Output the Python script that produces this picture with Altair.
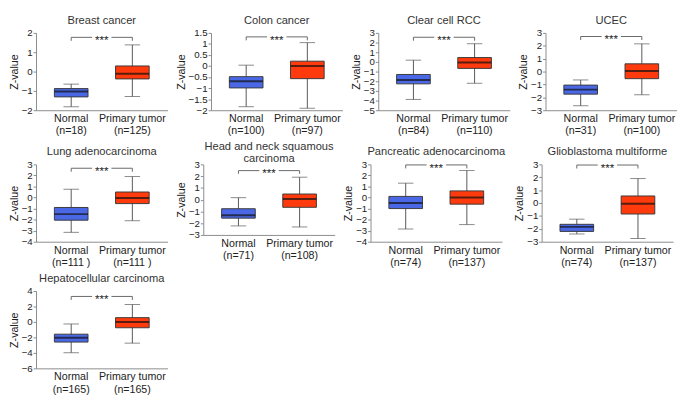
import altair as alt
import pandas as pd
import numpy as np

GROUPS = ["Normal", "Primary tumor"]

titles = ["Breast cancer", "Colon cancer", "Clear cell RCC", "UCEC",
          "Lung adenocarcinoma", ["Head and neck squamous", "carcinoma"],
          "Pancreatic adenocarcinoma", "Glioblastoma multiforme",
          "Hepatocellular carcinoma"]
n_normal = ["(n=18)", "(n=100)", "(n=84)", "(n=31)", "(n=111 )", "(n=71)",
            "(n=74)", "(n=74)", "(n=165)"]
n_tumor = ["(n=125)", "(n=97)", "(n=110)", "(n=100)", "(n=111 )", "(n=108)",
           "(n=137)", "(n=137)", "(n=165)"]

# Normal group box statistics
normal_min = [-1.82, -1.84, -3.88, -2.65, -3.15, -2.23, -2.85, -2.40, -3.98]
normal_q1 = [-1.31, -0.99, -2.27, -1.75, -2.05, -1.57, -1.00, -2.20, -2.60]
normal_med = [-1.03, -0.69, -1.88, -1.40, -1.50, -1.33, -0.50, -1.85, -2.03]
normal_q3 = [-0.88, -0.48, -1.30, -1.05, -0.90, -0.77, 0.10, -1.65, -1.58]
normal_max = [-0.65, 0.04, 0.18, -0.65, 0.75, 0.17, 1.30, -1.25, -0.26]

# Primary tumor group box statistics
tumor_min = [-1.29, -1.91, -2.21, -1.80, -2.10, -2.32, -2.45, -2.75, -2.74]
tumor_q1 = [-0.38, -0.57, -0.67, -0.55, -0.55, -0.65, -0.60, -0.85, -0.75]
tumor_med = [-0.11, 0.00, -0.06, 0.05, -0.05, 0.05, 0.00, -0.05, 0.00]
tumor_q3 = [0.29, 0.22, 0.45, 0.60, 0.50, 0.48, 0.60, 0.55, 0.56]
tumor_max = [1.38, 1.06, 1.88, 2.15, 1.90, 1.91, 2.45, 1.90, 2.26]

y_lo = [-2, -2, -5, -3, -4, -3, -4, -3, -6]
y_hi = [2, 1.5, 3, 3, 3, 3, 3, 3, 4]
y_step = [1, 0.5, 1, 1, 1, 1, 1, 1, 2]
bracket_y = [1.77, 1.32, 2.55, 2.72, 2.65, 2.47, 2.95, 2.95, 3.3]

BLUE = "#4A68E6"
RED = "#FF3A0C"
W = 136
H = 80
FONT = "Liberation Sans"
PI, PO = 0.45, 0.3
STEP = W / (2 - PI + 2 * PO)
BW = STEP * (1 - PI)


def panel(i):
    two_line = isinstance(titles[i], list)
    h = H - 7 if two_line else H
    df = pd.DataFrame({
        "group": GROUPS,
        "lo": [normal_min[i], tumor_min[i]],
        "q1": [normal_q1[i], tumor_q1[i]],
        "med": [normal_med[i], tumor_med[i]],
        "q3": [normal_q3[i], tumor_q3[i]],
        "hi": [normal_max[i], tumor_max[i]],
    })
    rng = y_hi[i] - y_lo[i]
    drop = rng * 0.045
    df_b = pd.DataFrame({"g1": ["Normal"], "g2": ["Primary tumor"],
                         "y": [bracket_y[i]]})
    df_d = pd.DataFrame({"group": GROUPS, "y": [bracket_y[i]] * 2,
                         "y2": [bracket_y[i] - drop] * 2})

    xs = alt.Scale(domain=GROUPS, paddingInner=PI, paddingOuter=PO)
    label_expr = ("datum.value == 'Normal' ? ['Normal', '%s'] : ['Primary tumor', '%s']"
                  % (n_normal[i], n_tumor[i]))
    xaxis = alt.Axis(title=None, labelExpr=label_expr, ticks=False, labelAngle=0,
                     labelFontSize=11, labelLineHeight=12.5, labelPadding=3,
                     labelColor="#222", domainColor="#8a8a8a", labelFont=FONT)
    x = alt.X("group:N", scale=xs, sort=GROUPS, axis=xaxis)
    nt = int(round(rng / y_step[i]))
    ticks = [round(y_lo[i] + k * y_step[i], 2) for k in range(nt + 1)]
    ys = alt.Scale(domain=[y_lo[i], y_hi[i]], nice=False, zero=False)
    yaxis = alt.Axis(title="Z-value", values=ticks, grid=False, tickSize=3,
                     format="~g", labelFontSize=10, labelPadding=1, titlePadding=2,
                     labelOverlap=False,
                     titleFontSize=11, titleFontWeight="normal", titleColor="#222",
                     labelColor="#222", domainColor="#8a8a8a", tickColor="#8a8a8a",
                     labelFont=FONT, titleFont=FONT)

    def Y(f):
        return alt.Y(f, scale=ys, axis=yaxis)

    base = alt.Chart(df)
    whisk = base.mark_rule(color="#555", strokeWidth=1).encode(
        x=x, y=Y("lo:Q"), y2="hi:Q")
    box = base.mark_bar(stroke="#3a3a3a", strokeWidth=1, opacity=1).encode(
        x=x, y=Y("q1:Q"), y2="q3:Q",
        color=alt.Color("group:N", scale=alt.Scale(domain=GROUPS, range=[BLUE, RED]),
                        legend=None))
    cap_lo = base.mark_tick(color="#555", size=16, thickness=1).encode(
        x=x, y=Y("lo:Q"))
    cap_hi = base.mark_tick(color="#555", size=16, thickness=1).encode(
        x=x, y=Y("hi:Q"))
    med = base.mark_tick(color="#111", size=BW, thickness=2).encode(
        x=x, y=Y("med:Q"))

    bl = alt.Chart(df_b).mark_rule(color="#666", strokeWidth=1).encode(
        x=alt.X("g1:N", scale=xs, sort=GROUPS, axis=xaxis), x2=alt.value(W / 2 - 10),
        y=Y("y:Q"))
    br = alt.Chart(df_b).mark_rule(color="#666", strokeWidth=1).encode(
        x=alt.X("g2:N", scale=xs, sort=GROUPS, axis=xaxis), x2=alt.value(W / 2 + 10),
        y=Y("y:Q"))
    drops = alt.Chart(df_d).mark_rule(color="#666", strokeWidth=1).encode(
        x=x, y=Y("y:Q"), y2="y2:Q")
    stars = alt.Chart(df_b).mark_text(text="***", fontSize=12, font=FONT,
                                      baseline="alphabetic", dy=7, color="#222").encode(
        x=alt.value(W / 2), y=Y("y:Q"))

    title = alt.TitleParams(text=titles[i], fontSize=11.5, font=FONT,
                            fontWeight="normal", color="#333", frame="group",
                            anchor="middle", offset=(-5 if two_line else 2),
                            lineHeight=12)
    return alt.layer(whisk, box, cap_lo, cap_hi, med, bl, br, drops, stars).properties(
        width=W, height=h, title=title)


rows = [
    alt.hconcat(*[panel(i) for i in range(0, 4)], spacing=8),
    alt.hconcat(*[panel(i) for i in range(4, 8)], spacing=8),
    alt.hconcat(panel(8), spacing=8),
]
chart = alt.vconcat(*rows, spacing=5).properties(padding=0).configure_view(
    stroke=None)

chart.save("out.html", embed_options={"renderer": "svg", "actions": False})
